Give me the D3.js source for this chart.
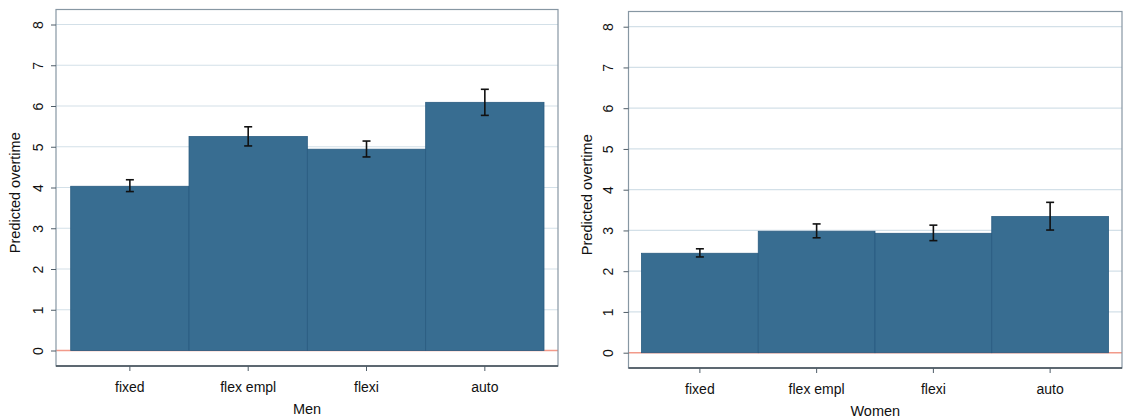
<!DOCTYPE html>
<html>
<head>
<meta charset="utf-8">
<script src="https://cdn.jsdelivr.net/npm/d3@7"></script>
<style>
  body { margin: 0; background: #fff; }
  svg { display: block; font-family: "Liberation Sans", Arial, sans-serif; }
</style>
</head>
<body>
<div id="chart"></div>
<script>
// values
const categories = ["fixed", "flex empl", "flexi", "auto"];
const yTicks = [0, 1, 2, 3, 4, 5, 6, 7, 8];

const menValues = [4.03, 5.25, 4.94, 6.09];
const menLow    = [3.90, 5.02, 4.75, 5.77];
const menHigh   = [4.19, 5.49, 5.14, 6.41];

const womenValues = [2.44, 2.98, 2.93, 3.34];
const womenLow    = [2.35, 2.82, 2.75, 3.01];
const womenHigh   = [2.55, 3.16, 3.13, 3.69];

const svg = d3.select("#chart").append("svg")
  .attr("width", 1130)
  .attr("height", 420);

// panel layout (pixels)
const panels = [
  { title: "Men", values: menValues, low: menLow, high: menHigh,
    frame: { x0: 56, x1: 558, y0: 9.5, y1: 366 }, bars: [70.7, 544], y0: 350.5, y8: 24.5,
    labelX: 15, tickLabelX: 38 },
  { title: "Women", values: womenValues, low: womenLow, high: womenHigh,
    frame: { x0: 628.5, x1: 1122, y0: 11.5, y1: 368 }, bars: [641.5, 1108.5], y0: 352.7, y8: 26.7,
    labelX: 587, tickLabelX: 608 }
];

panels.forEach(function(p) {
  const g = svg.append("g");
  const f = p.frame;

  const y = d3.scaleLinear().domain([0, 8]).range([p.y0, p.y8]);
  const x = d3.scaleBand().domain(categories).range(p.bars).padding(0);

  // grid lines
  g.selectAll(".grid").data(yTicks.filter(d => d > 0)).enter().append("line")
    .attr("x1", f.x0).attr("x2", f.x1)
    .attr("y1", d => y(d)).attr("y2", d => y(d))
    .attr("stroke", "#d3e0e8").attr("stroke-width", 1.2);

  // zero reference line
  g.append("line")
    .attr("x1", f.x0).attr("x2", f.x1)
    .attr("y1", y(0)).attr("y2", y(0))
    .attr("stroke", "#f29a8a").attr("stroke-width", 1.6);

  // bars
  g.selectAll(".bar").data(p.values).enter().append("rect")
    .attr("x", (d, i) => x(categories[i]))
    .attr("width", x.bandwidth())
    .attr("y", d => y(d))
    .attr("height", d => y(0) - y(d))
    .attr("fill", "#386d91")
    .attr("stroke", "#295b80")
    .attr("stroke-width", 0.8);

  // error bars
  const eb = g.selectAll(".err").data(p.values).enter().append("g")
    .attr("stroke", "#111").attr("stroke-width", 1.6);
  eb.append("line")
    .attr("x1", (d, i) => x(categories[i]) + x.bandwidth() / 2)
    .attr("x2", (d, i) => x(categories[i]) + x.bandwidth() / 2)
    .attr("y1", (d, i) => y(p.low[i]))
    .attr("y2", (d, i) => y(p.high[i]));
  [p.low, p.high].forEach(function(arr) {
    eb.append("line")
      .attr("x1", (d, i) => x(categories[i]) + x.bandwidth() / 2 - 4)
      .attr("x2", (d, i) => x(categories[i]) + x.bandwidth() / 2 + 4)
      .attr("y1", (d, i) => y(arr[i]))
      .attr("y2", (d, i) => y(arr[i]));
  });

  // frame
  g.append("rect")
    .attr("x", f.x0).attr("y", f.y0)
    .attr("width", f.x1 - f.x0).attr("height", f.y1 - f.y0)
    .attr("fill", "none").attr("stroke", "#8797a3").attr("stroke-width", 1.2);

  // y axis
  const yAxis = g.append("g")
    .attr("transform", "translate(" + f.x0 + ",0)")
    .call(d3.axisLeft(y).tickValues(yTicks).tickSize(5).tickFormat(d3.format("d")));
  yAxis.select(".domain").remove();
  yAxis.selectAll(".tick line").attr("stroke", "#4f5d68");
  yAxis.selectAll(".tick text")
    .attr("x", 0).attr("dy", null)
    .attr("transform", d => "translate(" + (p.tickLabelX - f.x0 + 5) + ",0) rotate(-90)")
    .attr("text-anchor", "middle")
    .attr("font-size", 14).attr("fill", "#111");

  // x axis
  const xAxis = g.append("g")
    .attr("transform", "translate(0," + f.y1 + ")")
    .call(d3.axisBottom(x).tickSize(5).tickSizeOuter(0));
  xAxis.select(".domain")
    .attr("d", "M" + f.x0 + ",0H" + f.x1)
    .attr("stroke", "#3f4b55").attr("stroke-width", 1.6);
  xAxis.selectAll(".tick line").attr("stroke", "#4f5d68");
  xAxis.selectAll(".tick text")
    .attr("y", 16).attr("font-size", 14).attr("fill", "#111");

  // axis titles
  g.append("text")
    .attr("x", (f.x0 + f.x1) / 2).attr("y", f.y1 + 48)
    .attr("text-anchor", "middle").attr("font-size", 14.5).attr("fill", "#111")
    .text(p.title);
  g.append("text")
    .attr("transform", "translate(" + (p.labelX + 5) + "," + ((f.y0 + f.y1) / 2 + 5) + ") rotate(-90)")
    .attr("text-anchor", "middle").attr("font-size", 14.5).attr("fill", "#111")
    .text("Predicted overtime");
});
</script>
</body>
</html>
